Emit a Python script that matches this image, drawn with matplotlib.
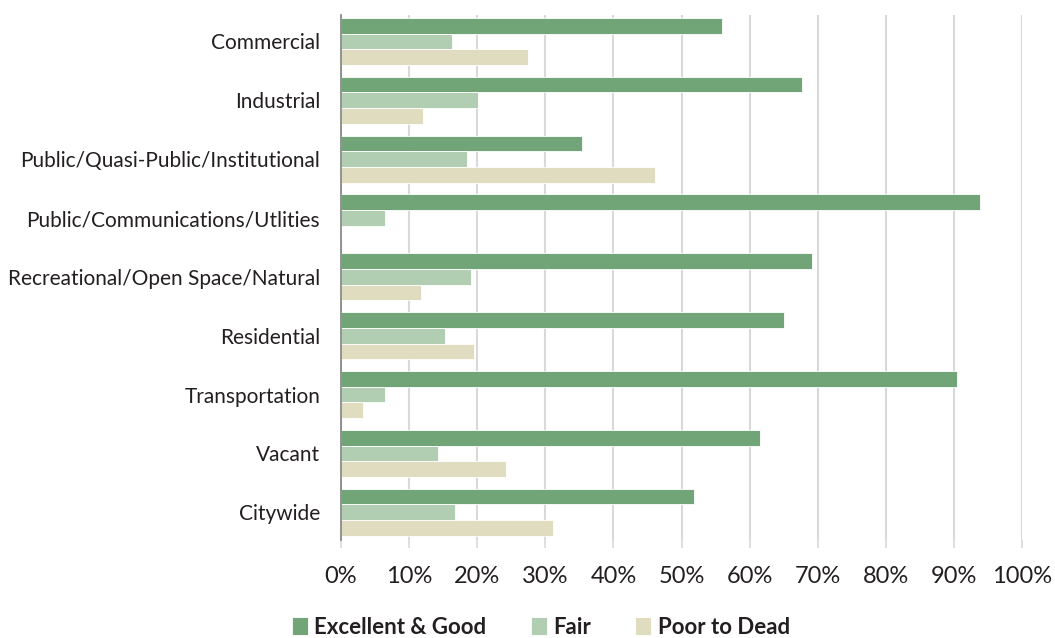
import matplotlib
matplotlib.use("Agg")
import matplotlib.pyplot as plt
import numpy as np
from matplotlib.ticker import PercentFormatter

categories = [
    "Commercial",
    "Industrial",
    "Public/Quasi-Public/Institutional",
    "Public/Communications/Utlities",
    "Recreational/Open Space/Natural",
    "Residential",
    "Transportation",
    "Vacant",
    "Citywide",
]
series_names = ["Excellent & Good", "Fair", "Poor to Dead"]
excellent_good = [55.9, 67.7, 35.4, 93.8, 69.1, 65.1, 90.4, 61.6, 51.9]
fair = [16.3, 20.1, 18.5, 6.4, 19.1, 15.3, 6.4, 14.3, 16.7]
poor_to_dead = [27.5, 12.1, 46.1, 0.0, 11.8, 19.6, 3.3, 24.2, 31.2]
x_ticks = [0, 10, 20, 30, 40, 50, 60, 70, 80, 90, 100]

colors = ["#71a476", "#b1cdb2", "#e0dcc0"]

plt.rcParams["font.family"] = ["Lato", "DejaVu Sans"]

fig = plt.figure(figsize=(10.55, 6.38), dpi=100)
ax = fig.add_axes([341 / 1055, 1 - 540 / 638, (1022 - 341) / 1055, (540 - 15) / 638])

y = np.arange(len(categories))
h = 0.267
for i, (vals, name, c) in enumerate(zip([excellent_good, fair, poor_to_dead], series_names, colors)):
    ax.barh(y + (i - 1) * h, vals, height=h, color=c, label=name,
            edgecolor="white", linewidth=0.6, zorder=3)

ax.set_xlim(0, 100)
ax.set_ylim(8.47, -0.45)
ax.set_xticks(x_ticks)
ax.xaxis.set_major_formatter(PercentFormatter(decimals=0))
ax.set_yticks(y)
ax.set_yticklabels(categories, fontsize=15, color="#231f20")
ax.tick_params(axis="y", length=0, pad=15)
ax.tick_params(axis="x", length=6, color="#d9d9d9", width=1.2, pad=13,
               labelsize=17, labelcolor="#231f20")
ax.grid(axis="x", color="#d9d9d9", linewidth=1.5, zorder=0)
for side in ["top", "right", "bottom"]:
    ax.spines[side].set_visible(False)
ax.spines["left"].set_color("#808080")
ax.spines["left"].set_linewidth(1.2)
ax.spines["left"].set_zorder(4)

leg = fig.legend(loc="center", bbox_to_anchor=(541 / 1055, 1 - 627 / 638), ncol=3,
                 frameon=False, prop={"weight": "bold", "size": 16},
                 handlelength=0.7, handleheight=0.9, handletextpad=0.3,
                 columnspacing=2.0)
for t in leg.get_texts():
    t.set_color("#231f20")

fig.savefig("out.png", dpi=100, facecolor="white")
